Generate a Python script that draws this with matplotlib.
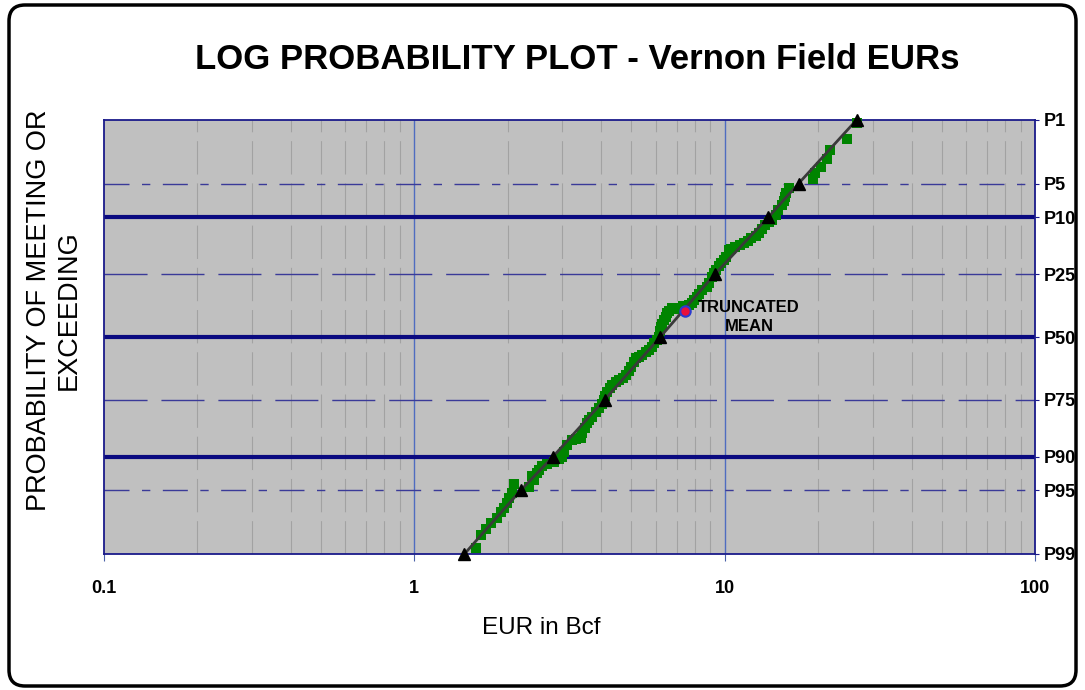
import matplotlib
matplotlib.use('Agg')
import matplotlib.pyplot as plt
from matplotlib.patches import FancyBboxPatch
from statistics import NormalDist

plt.rcParams['font.family'] = 'Liberation Sans'

# EUR (Bcf) and probability of meeting or exceeding (%)
eur = [26.6, 24.7, 21.8, 21.4, 20.4, 19.6, 19.3, 16.1, 15.8, 15.7, 15.5, 15.3,
       14.9, 14.6, 14.2, 13.9, 13.5, 13.2, 12.9, 12.6, 12.2, 11.9, 11.5, 11.2,
       10.8, 10.5, 10.3, 10.1, 9.93, 9.7, 9.56, 9.35, 9.22, 9.08, 8.88, 8.75,
       8.44, 8.25, 8.13, 7.95, 7.83, 7.66, 7.49, 7.33, 7.11, 6.91, 6.75, 6.61,
       6.51, 6.46, 6.37, 6.27, 6.23, 6.18, 6.14, 6.05, 5.91, 5.83, 5.70, 5.57,
       5.41, 5.29, 5.17, 5.10, 4.99, 4.91, 4.80, 4.70, 4.56, 4.46, 4.33, 4.27,
       4.17, 4.11, 4.08, 4.02, 3.93, 3.85, 3.74, 3.65, 3.60, 3.55, 3.47, 3.44,
       3.32, 3.22, 3.10, 3.04, 2.99, 2.93, 2.82, 2.68, 2.58, 2.52, 2.49, 2.43,
       2.40, 2.34, 2.10, 2.07, 2.02, 1.99, 1.95, 1.90, 1.84, 1.77, 1.70, 1.64,
       1.58]
prob = [1.09, 1.69, 2.25, 2.82, 3.42, 3.94, 4.52, 5.51, 6.14, 6.67, 7.25, 7.85,
        8.67, 9.55, 10.5, 10.9, 11.5, 12.35, 13.2, 14.0, 14.4, 15.2, 15.7, 16.2,
        16.7, 17.3, 17.6, 19.6, 20.5, 21.4, 22.3, 23.6, 24.6, 26.0, 28.1, 29.6,
        30.7, 32.2, 33.4, 34.6, 35.8, 36.6, 37.4, 37.0, 37.6, 38.2, 37.8, 39.0,
        39.9, 41.5, 42.8, 44.5, 45.7, 47.4, 50.0, 51.3, 52.6, 54.3, 55.5, 56.4,
        57.6, 58.5, 58.9, 60.6, 62.6, 64.2, 65.8, 67.0, 67.8, 68.5, 69.7, 70.8,
        72.2, 73.6, 75.0, 76.4, 77.7, 78.9, 80.4, 81.3, 82.2, 83.5, 84.8, 86.1,
        86.3, 86.5, 87.6, 89.1, 90.1, 90.5, 91.0, 91.3, 91.7, 92.3, 92.8, 93.7,
        93.2, 94.6, 94.2, 95.3, 95.8, 96.2, 96.7, 97.0, 97.4, 97.7, 98.0, 98.3,
        98.8]

# fitted lognormal percentiles (black triangles)
fit_labels = ['P1', 'P5', 'P10', 'P25', 'P50', 'P75', 'P90', 'P95', 'P99']
fit_prob = [1, 5, 10, 25, 50, 75, 90, 95, 99]
fit_eur = [26.6, 17.3, 13.8, 9.3, 6.2, 4.1, 2.8, 2.2, 1.45]

# truncated mean
mean_eur = 7.43
mean_prob = 39.0

nd = NormalDist()


def zpos(p):
    # normal probability scale, P1 at the top
    return nd.inv_cdf(1 - p / 100.0)


fig = plt.figure(figsize=(10.85, 6.9), dpi=100)

# rounded frame round the whole picture
bg = fig.add_axes([0, 0, 1, 1])
bg.set_xlim(0, 1085)
bg.set_ylim(0, 690)
bg.axis('off')
bg.add_patch(FancyBboxPatch((9, 4), 1067, 681, boxstyle='round,pad=0,rounding_size=16',
                            fill=False, edgecolor='black', linewidth=2.5))

ax = fig.add_axes([104 / 1085, 1 - 554 / 690, (1035 - 104) / 1085, (554 - 120) / 690])
ax.set_facecolor('#c0c0c0')
ax.set_xscale('log')
ax.set_xlim(0.1, 100)
ax.set_ylim(zpos(99), zpos(1))

# vertical grid
for dec in [0.1, 1, 10]:
    for m in range(2, 10):
        ax.axvline(dec * m, color='#a2a2a2', linewidth=0.8, dashes=(30, 8), zorder=1)
for v in [1, 10]:
    ax.axvline(v, color='#4f6cc0', linewidth=1.0, zorder=1)

# horizontal probability lines
for p in [10, 50, 90]:
    ax.axhline(zpos(p), color='#0a0a80', linewidth=3, zorder=2)
for p in [25, 75]:
    ax.axhline(zpos(p), color='#3a3a98', linewidth=1, dashes=(31, 10), zorder=2)
for p in [5, 95]:
    ax.axhline(zpos(p), color='#3a3a98', linewidth=1, dashes=(18, 9, 6, 9), zorder=2)

# data
ax.plot(eur, [zpos(p) for p in prob], linestyle='none', marker='s', markersize=7.0,
        color='#008400', markeredgewidth=0, zorder=3, clip_on=False)
ax.plot(fit_eur, [zpos(p) for p in fit_prob], color='#3a3a3a', linewidth=2, zorder=4,
        clip_on=False)
ax.plot(fit_eur, [zpos(p) for p in fit_prob], linestyle='none', marker='^',
        markersize=8.5, color='black', zorder=5, clip_on=False)
ax.plot([mean_eur], [zpos(mean_prob)], marker='o', markersize=7.5, markerfacecolor='#e8103c',
        markeredgecolor='#2a3ad0', markeredgewidth=1.5, zorder=6)
ax.text(12.0, zpos(41.5), 'TRUNCATED\nMEAN', ha='center', va='center',
        fontsize=12, fontweight='bold', linespacing=1.3, zorder=6)

# axes styling
for s in ax.spines.values():
    s.set_color('#1a1a8a')
    s.set_linewidth(1.3)
ax.set_xticks([0.1, 1, 10, 100])
ax.set_xticklabels(['0.1', '1', '10', '100'], fontsize=13, fontweight='bold')
ax.minorticks_off()
ax.tick_params(axis='x', direction='out', length=5, width=0.8, color='#4a62a8', pad=14)
ax.yaxis.tick_right()
ax.set_yticks([zpos(p) for p in fit_prob])
ax.set_yticklabels(fit_labels, fontsize=13, fontweight='bold')
ax.tick_params(axis='y', direction='out', length=3, width=0.8, color='#1a1a8a', pad=3)
ax.set_yticks([], minor=True)

fig.text(0.532, 0.914, 'LOG PROBABILITY PLOT - Vernon Field EURs', ha='center', va='center',
         fontsize=25, fontweight='bold')
fig.text(0.05, 0.55, 'PROBABILITY OF MEETING OR\nEXCEEDING', rotation=90, ha='center',
         va='center', fontsize=19.5, linespacing=1.2)
fig.text(0.499, 0.09, 'EUR in Bcf', ha='center', va='center', fontsize=17.5)

plt.savefig('out.png', dpi=100)
